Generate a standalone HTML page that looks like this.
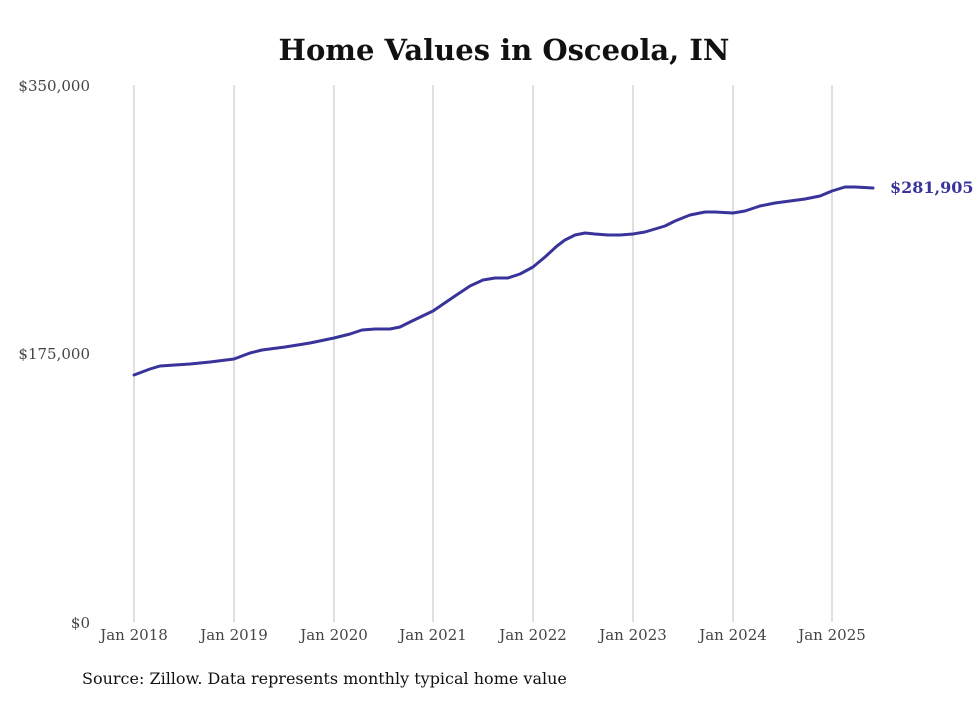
<!DOCTYPE html>
<html><head><meta charset="utf-8"><style>body{margin:0;background:#fff}</style></head><body>
<svg width="980" height="699" xmlns="http://www.w3.org/2000/svg" font-family="DejaVu Serif, Liberation Serif, serif">
<rect width="980" height="699" fill="#fff"/>
<text x="504" y="60" text-anchor="middle" font-size="29" font-weight="bold" fill="#111">Home Values in Osceola, IN</text>
<g stroke="#c0c0c0" stroke-width="1">
<line x1="134" y1="85" x2="134" y2="622"/><line x1="234" y1="85" x2="234" y2="622"/>
<line x1="334" y1="85" x2="334" y2="622"/><line x1="433" y1="85" x2="433" y2="622"/>
<line x1="533" y1="85" x2="533" y2="622"/><line x1="633" y1="85" x2="633" y2="622"/>
<line x1="733" y1="85" x2="733" y2="622"/><line x1="832" y1="85" x2="832" y2="622"/>
</g>
<g font-size="15" fill="#444" text-anchor="end">
<text x="90" y="91">$350,000</text><text x="90" y="359">$175,000</text><text x="90" y="628">$0</text>
</g>
<g font-size="15" fill="#444" text-anchor="middle">
<text x="134" y="640">Jan 2018</text><text x="234" y="640">Jan 2019</text><text x="334" y="640">Jan 2020</text>
<text x="433" y="640">Jan 2021</text><text x="533" y="640">Jan 2022</text><text x="633" y="640">Jan 2023</text>
<text x="733" y="640">Jan 2024</text><text x="832" y="640">Jan 2025</text>
</g>
<polyline fill="none" stroke="#39349a" stroke-width="3" stroke-linejoin="round" stroke-linecap="round"
points="134,375 150,369 160,366 175,365 190,364 210,362 234,359 250,353 262,350 285,347 310,343 334,338 350,334 362,330 375,329 390,329 400,327 410,322 433,311 455,296 470,286 483,280 495,278 508,278 520,274 533,267 545,257 557,246 565,240 575,235 585,233 595,234 608,235 620,235 633,234 645,232 655,229 665,226 675,221 690,215 705,212 715,212 733,213 745,211 760,206 775,203 790,201 805,199 820,196 832,191 845,187 855,187 873,188"/>
<text x="890" y="193" font-size="16" font-weight="bold" fill="#39349a">$281,905</text>
<text x="82" y="684" font-size="16" fill="#111">Source: Zillow. Data represents monthly typical home value</text>
</svg>
</body></html>
